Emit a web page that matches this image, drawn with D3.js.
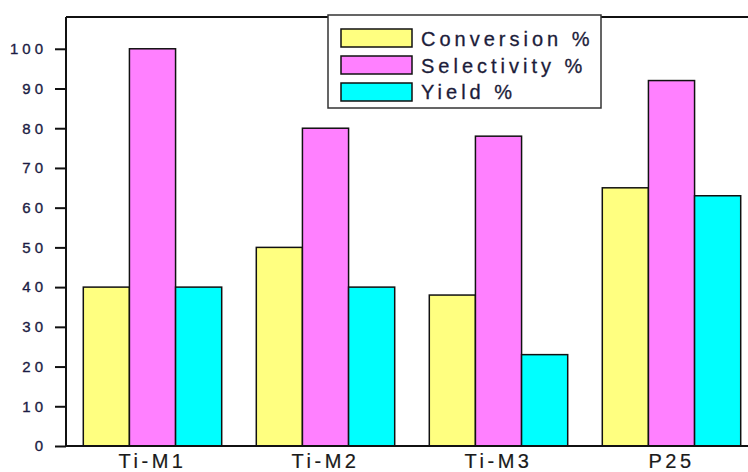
<!DOCTYPE html>
<html>
<head>
<meta charset="utf-8">
<script src="https://cdn.jsdelivr.net/npm/d3@7"></script>
<style>
  html, body { margin: 0; padding: 0; background: #fff; }
  svg { display: block; font-family: "Liberation Sans", Arial, sans-serif; }
</style>
</head>
<body>
<svg id="chart" width="748" height="472"></svg>
<script>
const categories = ["Ti-M1", "Ti-M2", "Ti-M3", "P25"];
const seriesNames = ["Conversion %", "Selectivity %", "Yield %"];
const conversion = [40, 50, 38, 65];
const selectivity = [100, 80, 78, 92];
const yieldVals = [40, 40, 23, 63];
const yTicks = [0, 10, 20, 30, 40, 50, 60, 70, 80, 90, 100];
const colors = ["#ffff80", "#ff80ff", "#00ffff"];

const seriesValues = [conversion, selectivity, yieldVals];
const svg = d3.select("#chart");

const pLeft = 66, pRight = 758, pTop = 17, pBottom = 446;

const x = d3.scaleBand().domain(categories).range([pLeft, pRight])
  .paddingInner(0.2).paddingOuter(0.1);
const xs = d3.scaleBand().domain(seriesNames).range([0, x.bandwidth()]);
const y = d3.scaleLinear().domain([0, 108]).range([pBottom, pTop]);

// bars
categories.forEach((c, ci) => {
  seriesNames.forEach((s, si) => {
    const v = seriesValues[si][ci];
    svg.append("rect")
      .attr("x", x(c) + xs(s))
      .attr("y", y(v))
      .attr("width", xs.bandwidth())
      .attr("height", y(0) - y(v))
      .attr("fill", colors[si])
      .attr("stroke", "#111")
      .attr("stroke-width", 1.5);
  });
});

// frame
svg.append("line").attr("x1", pLeft).attr("x2", pRight + 10).attr("y1", pTop).attr("y2", pTop)
  .attr("stroke", "#111").attr("stroke-width", 2);

// y axis
const yAxis = d3.axisLeft(y).tickValues(yTicks).tickSize(11).tickPadding(10);
const gy = svg.append("g").attr("transform", `translate(${pLeft},0)`).call(yAxis);
gy.select(".domain").attr("stroke", "#111").attr("stroke-width", 2)
  .attr("d", `M0,${pBottom}V${pTop}`);
gy.selectAll(".tick line").attr("stroke", "#111").attr("stroke-width", 2);
gy.selectAll(".tick text")
  .attr("font-size", 15).attr("fill", "#1c1c44")
  .attr("stroke", "#1c1c44").attr("stroke-width", 0.35)
  .attr("font-family", "Liberation Sans, Arial, sans-serif")
  .style("letter-spacing", "4px").attr("dx", "2px");

// x axis
const xAxis = d3.axisBottom(x).tickSize(0).tickPadding(0);
const gx = svg.append("g").attr("transform", `translate(0,${pBottom})`).call(xAxis);
gx.select(".domain").attr("stroke", "#111").attr("stroke-width", 2)
  .attr("d", `M${pLeft},0H${pRight + 10}`);
gx.selectAll(".tick text")
  .attr("font-size", 20).attr("fill", "#1a1a1a")
  .attr("stroke", "#1a1a1a").attr("stroke-width", 0.2)
  .attr("font-family", "Liberation Sans, Arial, sans-serif")
  .attr("dy", null).attr("y", 22)
  .style("letter-spacing", "3.5px");

// legend
const lg = svg.append("g");
lg.append("rect").attr("x", 328).attr("y", 15).attr("width", 273).attr("height", 93)
  .attr("fill", "#fff").attr("stroke", "#333").attr("stroke-width", 1.5);
seriesNames.forEach((s, i) => {
  lg.append("rect").attr("x", 341).attr("y", 29 + i * 27).attr("width", 71).attr("height", 18)
    .attr("fill", colors[i]).attr("stroke", "#111").attr("stroke-width", 1.5);
  lg.append("text").attr("x", 421).attr("y", 46 + i * 26.5)
    .attr("font-size", 20).attr("fill", "#1c1c3a")
    .attr("stroke", "#1c1c3a").attr("stroke-width", 0.3)
    .style("letter-spacing", "4px")
    .text(s);
});
</script>
</body>
</html>
